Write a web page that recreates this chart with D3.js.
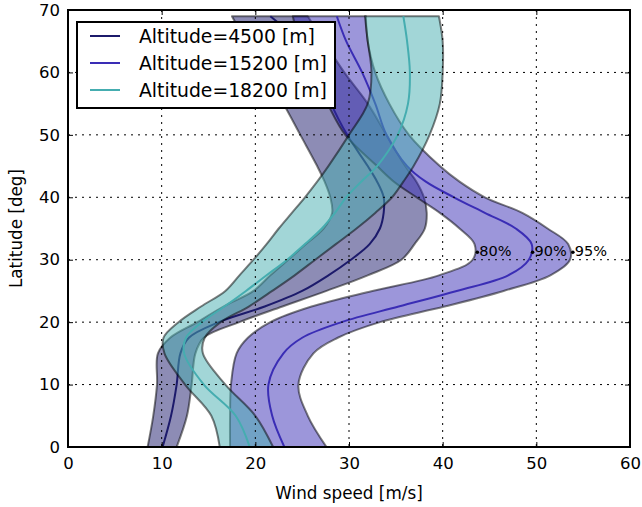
<!DOCTYPE html>
<html>
<head>
<meta charset="utf-8">
<script src="https://cdn.jsdelivr.net/npm/d3@7/dist/d3.min.js"></script>
<style>
  body { margin: 0; background: #fff; }
  text { font-family: "DejaVu Sans", sans-serif; fill: #000; }
</style>
</head>
<body>
<svg id="chart" width="642" height="507"></svg>
<script>
// ---------- data (wind speed percentiles vs latitude) ----------
const latitudes = [0, 5, 10, 15, 17.5, 20, 22.5, 25, 27.5, 30, 32.5, 35, 37.5, 40, 42.5, 45, 50, 55, 60, 65, 69];

const altitudes = ["Altitude=4500 [m]", "Altitude=15200 [m]", "Altitude=18200 [m]"];

// Altitude 4500 m
const p80_4500 = [8.5, 9.1, 9.5, 9.6, 10.9, 13.8, 16.6, 19.8, 21.6, 23.5, 25.4, 27.3, 28.2, 28.0, 27.4, 26.6, 24.8, 23.0, 21.0, 19.0, 17.5];
const p90_4500 = [10.1, 11.0, 11.6, 12.0, 12.9, 16.1, 21.0, 25.0, 27.8, 30.2, 32.2, 33.3, 33.7, 33.7, 33.0, 32.0, 29.8, 28.1, 27.0, 24.6, 21.6];
const p95_4500 = [11.6, 12.7, 13.2, 13.6, 14.5, 18.3, 22.9, 27.6, 32.0, 35.6, 37.0, 38.1, 38.3, 38.0, 37.2, 36.0, 34.0, 32.0, 29.5, 27.3, 25.6];

// Altitude 15200 m
const p80_15200 = [17.3, 17.3, 17.4, 18.0, 19.2, 21.6, 26.0, 32.5, 39.6, 43.2, 43.4, 41.8, 39.7, 37.2, 34.8, 33.0, 29.6, 27.7, 26.1, 24.7, 24.0];
const p90_15200 = [23.1, 21.8, 21.4, 23.0, 25.0, 29.2, 35.3, 41.5, 47.0, 49.2, 49.5, 47.8, 44.5, 41.2, 38.2, 36.2, 34.0, 32.8, 31.4, 29.7, 28.7];
const p95_15200 = [27.6, 25.6, 24.6, 26.2, 28.8, 33.3, 40.2, 46.5, 51.5, 53.6, 53.4, 51.2, 48.5, 44.5, 41.8, 39.7, 36.4, 34.3, 32.8, 32.0, 31.8];

// Altitude 18200 m
const p80_18200 = [16.2, 15.3, 12.5, 10.3, 10.2, 11.8, 14.2, 16.8, 18.3, 19.8, 21.2, 22.5, 23.9, 25.3, 26.6, 27.8, 30.0, 32.0, 32.4, 32.0, 31.7];
const p90_18200 = [19.4, 17.9, 14.5, 12.4, 12.6, 14.3, 16.7, 19.0, 21.2, 23.4, 25.3, 27.1, 28.5, 29.7, 31.3, 33.0, 35.2, 36.3, 36.5, 36.2, 35.8];
const p95_18200 = [21.9, 20.0, 16.8, 14.4, 14.6, 16.3, 19.3, 21.8, 24.2, 26.4, 28.6, 30.8, 32.8, 34.6, 35.8, 36.9, 38.6, 39.7, 40.0, 40.0, 39.6];

const lineColors = ["#1c1a6b", "#3a2db5", "#45adb0"];

// percentile annotation (15200 m, at latitude 31.2)
const annotLat = 31.2;
const annotX = [43.7, 49.6, 53.9];
const annotText = ["80%", "90%", "95%"];

const xTicks = [0, 10, 20, 30, 40, 50, 60];
const yTicks = [0, 10, 20, 30, 40, 50, 60, 70];

// ---------- layout ----------
const svg = d3.select("#chart");
const L = 68, T = 10, R = 630, B = 447;
const x = d3.scaleLinear().domain([0, 60]).range([L, R]);
const y = d3.scaleLinear().domain([0, 70]).range([B, T]);

svg.append("defs").append("clipPath").attr("id", "clip")
  .append("rect").attr("x", L).attr("y", T).attr("width", R - L).attr("height", B - T);

const series = [
  { lo: p80_4500, mid: p90_4500, hi: p95_4500 },
  { lo: p80_15200, mid: p90_15200, hi: p95_15200 },
  { lo: p80_18200, mid: p90_18200, hi: p95_18200 }
];

const plot = svg.append("g").attr("clip-path", "url(#clip)");
const curve = d3.curveCatmullRom.alpha(0.5);

series.forEach((s, k) => {
  const rows = latitudes.map((lat, i) => ({ lat, lo: s.lo[i], mid: s.mid[i], hi: s.hi[i] }));
  const area = d3.area().curve(curve)
    .y(d => y(d.lat)).x0(d => x(d.lo)).x1(d => x(d.hi));
  plot.append("path").datum(rows)
    .attr("d", area)
    .attr("fill", lineColors[k]).attr("fill-opacity", 0.5)
    .attr("stroke", "#000").attr("stroke-opacity", 0.5).attr("stroke-width", 2)
    .attr("stroke-linejoin", "round");
  const line = d3.line().curve(curve).x(d => x(d.mid)).y(d => y(d.lat));
  plot.append("path").datum(rows)
    .attr("d", line).attr("fill", "none")
    .attr("stroke", lineColors[k]).attr("stroke-width", 2);
});

// grid (drawn on top, classic style)
const grid = svg.append("g");
xTicks.slice(1, -1).forEach(v => {
  grid.append("line").attr("x1", x(v)).attr("x2", x(v)).attr("y1", T).attr("y2", B)
    .attr("stroke", "#000").attr("stroke-width", 1).attr("stroke-dasharray", "2,5");
});
yTicks.slice(1, -1).forEach(v => {
  grid.append("line").attr("y1", y(v)).attr("y2", y(v)).attr("x1", L).attr("x2", R)
    .attr("stroke", "#000").attr("stroke-width", 1).attr("stroke-dasharray", "2,5");
});

// annotations
annotX.forEach((v, i) => {
  svg.append("circle").attr("cx", x(v)).attr("cy", y(annotLat)).attr("r", 1.8).attr("fill", "#000");
  svg.append("text").attr("x", x(v) + 2).attr("y", y(annotLat) + 4)
    .attr("font-size", 14.5).text(annotText[i]);
});

// axes (ticks inside on all sides)
const xAxisB = d3.axisBottom(x).tickValues(xTicks).tickSize(-5).tickPadding(10).tickFormat(d3.format("d"));
const xAxisT = d3.axisTop(x).tickValues(xTicks).tickSize(-5).tickFormat("");
const yAxisL = d3.axisLeft(y).tickValues(yTicks).tickSize(-5).tickPadding(8).tickFormat(d3.format("d"));
const yAxisR = d3.axisRight(y).tickValues(yTicks).tickSize(-5).tickFormat("");

function styleAxis(g) {
  g.select(".domain").remove();
  g.selectAll(".tick line").attr("stroke", "#000").attr("stroke-width", 1);
  g.selectAll(".tick text").attr("font-size", 16.5).attr("font-family", "DejaVu Sans").attr("fill", "#000");
}
svg.append("g").attr("transform", `translate(0,${B})`).call(xAxisB).call(styleAxis);
svg.append("g").attr("transform", `translate(0,${T})`).call(xAxisT).call(styleAxis);
svg.append("g").attr("transform", `translate(${L},0)`).call(yAxisL).call(styleAxis);
svg.append("g").attr("transform", `translate(${R},0)`).call(yAxisR).call(styleAxis);

// frame
svg.append("rect").attr("x", L).attr("y", T).attr("width", R - L).attr("height", B - T)
  .attr("fill", "none").attr("stroke", "#000").attr("stroke-width", 2);

// axis labels
svg.append("text").attr("x", (L + R) / 2).attr("y", 499).attr("text-anchor", "middle")
  .attr("font-size", 16.8).text("Wind speed [m/s]");
svg.append("text").attr("transform", `translate(22,${(T + B) / 2}) rotate(-90)`)
  .attr("text-anchor", "middle").attr("font-size", 16.8).text("Latitude [deg]");

// legend
const lg = svg.append("g");
lg.append("rect").attr("x", 77).attr("y", 22).attr("width", 258).attr("height", 86)
  .attr("fill", "#fff").attr("stroke", "#000").attr("stroke-width", 2);
altitudes.forEach((name, i) => {
  const yy = 36 + i * 27;
  lg.append("line").attr("x1", 90).attr("x2", 120).attr("y1", yy).attr("y2", yy)
    .attr("stroke", lineColors[i]).attr("stroke-width", 2);
  lg.append("text").attr("x", 139).attr("y", yy).attr("dy", "0.36em")
    .attr("font-size", 18.8).text(name);
});
</script>
</body>
</html>
